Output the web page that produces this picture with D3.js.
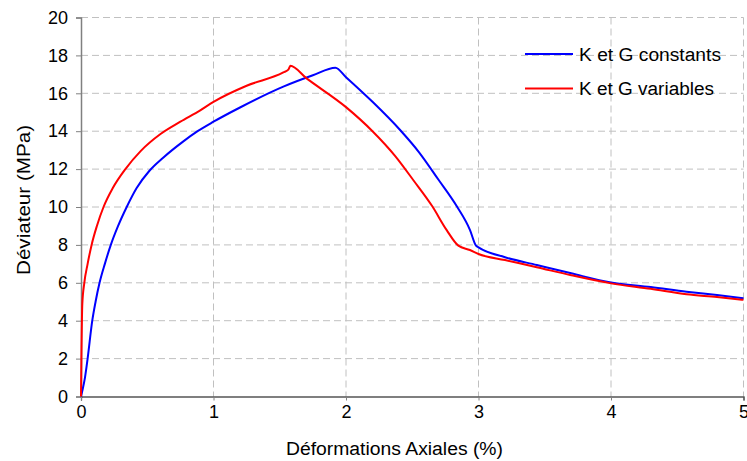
<!DOCTYPE html>
<html>
<head>
<meta charset="utf-8">
<script src="https://cdn.jsdelivr.net/npm/d3@7"></script>
<style>
  html, body { margin: 0; padding: 0; background: #fff; }
  svg text { font-family: "Liberation Sans", Arial, sans-serif; fill: #000; }
</style>
</head>
<body>
<svg id="chart" width="747" height="461"></svg>
<script>
// ---- data ----
const xTicks = [0, 1, 2, 3, 4, 5];
const yTicks = [0, 2, 4, 6, 8, 10, 12, 14, 16, 18, 20];
const seriesNames = ["K et G constants", "K et G variables"];
const seriesColors = ["#0000ff", "#ff0000"];

const constStrain = [0, 0.01, 0.03, 0.05, 0.085, 0.11, 0.14, 0.18, 0.225, 0.28, 0.345, 0.42, 0.515, 0.62, 0.77, 0.88, 1.0, 1.2, 1.527, 1.75, 1.92,
  2.0, 2.2, 2.41, 2.55, 2.697, 2.835, 2.936, 2.98, 3.0, 3.2, 3.44, 3.7, 4.0, 4.3, 4.57, 4.8, 5.0];
const constDev = [0, 0.3, 1, 2, 4, 5, 6, 7, 8, 9, 10, 11, 11.9, 12.6, 13.45, 14.0, 14.5, 15.25, 16.35, 16.95, 17.35,
  16.85, 15.55, 14.05, 12.9, 11.45, 10.05, 8.78, 7.97, 7.87, 7.35, 6.94, 6.5, 6.02, 5.78, 5.53, 5.35, 5.18];

const varStrain = [0, 0.003, 0.01, 0.025, 0.05, 0.08, 0.12, 0.17, 0.24, 0.335, 0.45, 0.6, 0.75, 0.9, 1.0, 1.25, 1.527, 1.565, 1.58,
  1.7, 2.0, 2.2, 2.37, 2.51, 2.65, 2.76, 2.848, 2.935, 3.0, 3.2, 3.44, 3.7, 4.0, 4.3, 4.57, 4.8, 5.0];
const varDev = [0, 2, 4.9, 6, 7, 8, 9, 10, 11, 12, 12.95, 13.85, 14.5, 15.1, 15.55, 16.4, 17.1, 17.25, 17.45,
  16.8, 15.27, 14.0, 12.7, 11.4, 10.05, 8.78, 7.96, 7.73, 7.52, 7.2, 6.82, 6.4, 5.97, 5.68, 5.39, 5.25, 5.1];

// ---- layout ----
const svg = d3.select("#chart");
const pLeft = 81, pRight = 743.5, pTop = 17.5, pBottom = 396.5;
const x = d3.scaleLinear().domain([0, 5]).range([pLeft, pRight]);
const y = d3.scaleLinear().domain([0, 20]).range([pBottom, pTop]);
const FONT = 18;

// grid
const grid = svg.append("g");
grid.selectAll("line.h").data(yTicks.filter(d => d > 0)).join("line")
  .attr("x1", pLeft).attr("x2", pRight)
  .attr("y1", d => y(d)).attr("y2", d => y(d))
  .attr("stroke", "#c0c0c0").attr("stroke-width", 1).attr("stroke-dasharray", "7,4");
grid.selectAll("line.v").data(xTicks.filter(d => d > 0)).join("line")
  .attr("y1", pTop).attr("y2", pBottom)
  .attr("x1", d => x(d)).attr("x2", d => x(d))
  .attr("stroke", "#c0c0c0").attr("stroke-width", 1).attr("stroke-dasharray", "7,4");

// y axis
const yAxis = svg.append("g").attr("transform", `translate(${pLeft},0)`)
  .call(d3.axisLeft(y).tickValues(yTicks).tickSize(5).tickPadding(8).tickFormat(d3.format("d")));
yAxis.select(".domain").attr("stroke", "#808080").attr("stroke-width", 1.5);
yAxis.selectAll(".tick line").attr("stroke", "#808080");
yAxis.selectAll("text").attr("font-size", FONT).attr("font-family", "Liberation Sans, Arial, sans-serif").attr("fill", "#000");

// x axis
const xAxis = svg.append("g").attr("transform", `translate(0,${pBottom})`)
  .call(d3.axisBottom(x).tickValues(xTicks).tickSize(4).tickPadding(17).tickFormat(d3.format("d")));
xAxis.select(".domain").attr("stroke", "#000").attr("stroke-width", 1.2);
xAxis.selectAll(".tick line").attr("stroke", "#808080");
xAxis.selectAll("text").attr("font-size", FONT).attr("font-family", "Liberation Sans, Arial, sans-serif").attr("fill", "#000")
  .attr("dy", "0em");

// series
const series = [
  { name: seriesNames[0], color: seriesColors[0], pts: constStrain.map((s, i) => [s, constDev[i]]) },
  { name: seriesNames[1], color: seriesColors[1], pts: varStrain.map((s, i) => [s, varDev[i]]) }
];
const line = d3.line().x(d => x(d[0])).y(d => y(d[1])).curve(d3.curveMonotoneX);
svg.append("g").selectAll("path").data(series).join("path")
  .attr("d", d => line(d.pts))
  .attr("fill", "none").attr("stroke", d => d.color).attr("stroke-width", 2)
  .attr("stroke-linejoin", "round");

// titles
svg.append("text").attr("x", 394.5).attr("y", 455).attr("text-anchor", "middle")
  .attr("font-size", FONT).attr("textLength", 217).attr("lengthAdjust", "spacingAndGlyphs")
  .text("Déformations Axiales (%)");
svg.append("text").attr("transform", "translate(30,200) rotate(-90)").attr("text-anchor", "middle")
  .attr("font-size", FONT).attr("textLength", 150).attr("lengthAdjust", "spacingAndGlyphs")
  .text("Déviateur (MPa)");

// legend
const leg = svg.append("g");
series.forEach((s, i) => {
  const ly = 54 + i * 34.5;
  leg.append("line").attr("x1", 525).attr("x2", 573).attr("y1", ly).attr("y2", ly)
    .attr("stroke", s.color).attr("stroke-width", 2);
  leg.append("text").attr("x", 579).attr("y", ly + 6.5).attr("font-size", FONT)
    .attr("textLength", i === 0 ? 142 : 135).attr("lengthAdjust", "spacingAndGlyphs")
    .text(s.name);
});
</script>
</body>
</html>
